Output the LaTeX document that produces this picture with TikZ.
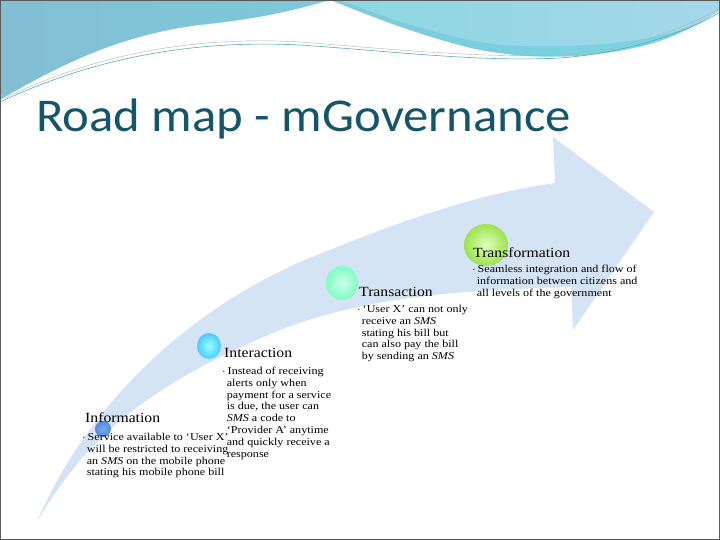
\documentclass[tikz,border=0pt]{standalone}
\usepackage{fontspec}
\setmainfont{Liberation Serif}
\newfontfamily\titlefont{Carlito}
\definecolor{hdA}{RGB}{130,190,212}
\definecolor{hdB}{RGB}{120,215,225}
\definecolor{hdC}{RGB}{140,215,225}
\definecolor{hdD}{RGB}{165,215,235}
\definecolor{hdline}{RGB}{90,170,190}
\definecolor{titlec}{RGB}{20,85,105}
\definecolor{arrowc}{RGB}{212,228,245}
\definecolor{infoA}{RGB}{120,170,235}
\definecolor{infoB}{RGB}{80,140,220}
\begin{document}
\begin{tikzpicture}[x=1pt,y=-1pt,
  head/.style={anchor=base west,inner sep=0pt,xscale=1.12,font=\fontsize{14}{16}\selectfont},
  bul/.style={anchor=north west,inner sep=0pt,align=left,xscale=1.15,font=\fontsize{10.5}{11.8}\selectfont},
  dot/.style={circle,inner sep=0pt}]
\useasboundingbox (0,0) rectangle (720,540);
\fill[white] (0,0) rectangle (720,540);
% header wave
\shade[left color=hdA,right color=hdB] (0,0) -- (720,0) -- (720,20) .. controls (640,55) and (560,65) .. (480,50) .. controls (380,30) and (280,20) .. (200,35) .. controls (120,50) and (50,80) .. (0,105) -- cycle;
\fill[white] (330,0) .. controls (380,20) and (430,40) .. (500,55) .. controls (600,70) and (680,40) .. (720,10) -- (720,25) .. controls (640,65) and (560,75) .. (480,65) .. controls (380,50) and (280,35) .. (200,40) .. controls (120,50) and (50,80) .. (0,105) -- (0,100) .. controls (60,65) and (120,35) .. (200,25) .. controls (250,20) and (290,12) .. (330,0) -- cycle;
\shade[left color=hdC,right color=hdD] (340,0) -- (720,0) -- (720,10) .. controls (680,40) and (600,50) .. (500,45) .. controls (430,35) and (380,15) .. (340,0) -- cycle;
\draw[hdline,line width=0.6pt] (0,102) .. controls (100,55) and (200,40) .. (300,45) .. controls (400,52) and (480,62) .. (560,58) .. controls (640,52) and (700,25) .. (720,12);
\draw[gray!60,line width=0.4pt] (5,98) .. controls (100,52) and (200,36) .. (300,42) .. controls (400,50) and (480,58) .. (560,55) .. controls (640,50) and (700,20) .. (720,8);
% title
\node[anchor=base west,inner sep=0pt,xscale=1.08,text=titlec,font=\titlefont\fontsize{47}{50}\selectfont] (title) at (36,132) {Road map - mGovernance};
% big arrow
\fill[arrowc] (37,522) .. controls (80,420) and (170,320) .. (300,262) .. controls (390,225) and (470,195) .. (555,183) -- (553,137) -- (654,212) -- (573,330) -- (571,287) .. controls (470,290) and (370,295) .. (280,330) .. controls (160,380) and (90,430) .. (37,522) -- cycle;
% dots
\shade[inner color=infoA,outer color=infoB] (103,429) circle (8);
\node[dot,minimum size=16pt] (d1) at (103,429) {};
\shade[inner color=cyan!40,outer color=cyan!70!blue!70] (209,346) ellipse (12 and 13);
\node[dot,minimum size=24pt] (d2) at (209,346) {};
\shade[inner color=green!30!cyan!20,outer color=green!50!cyan!50] (342,283) ellipse (16 and 17);
\node[dot,minimum size=32pt] (d3) at (342,283) {};
\shade[inner color=green!50!yellow!25,outer color=green!60!black!40!lime!70] (486,245) ellipse (22 and 21);
\node[dot,minimum size=42pt] (d4) at (486,245) {};
% texts
\node[head] (h1) at (85,422) {Information};
\node[bul] (b1) at (82,433) {$\cdot$\,Service available to `User X'\\\hspace*{4pt}will be restricted to receiving\\\hspace*{4pt}an \textit{SMS} on the mobile phone\\\hspace*{4pt}stating his mobile phone bill};
\node[head] (h2) at (224,357) {Interaction};
\node[bul] (b2) at (222,367) {$\cdot$\,Instead of receiving\\\hspace*{4pt}alerts only when\\\hspace*{4pt}payment for a service\\\hspace*{4pt}is due, the user can\\\hspace*{4pt}\textit{SMS} a code to\\\hspace*{4pt}`Provider A' anytime\\\hspace*{4pt}and quickly receive a\\\hspace*{4pt}response};
\node[head] (h3) at (359,296) {Transaction};
\node[bul] (b3) at (357,305) {$\cdot$\,`User X' can not only\\\hspace*{4pt}receive an \textit{SMS}\\\hspace*{4pt}stating his bill but\\\hspace*{4pt}can also pay the bill\\\hspace*{4pt}by sending an \textit{SMS}};
\node[head] (h4) at (473,257) {Transformation};
\node[bul] (b4) at (472,265) {$\cdot$\,Seamless integration and flow of\\\hspace*{4pt}information between citizens and\\\hspace*{4pt}all levels of the government};
\draw[gray!70!black,line width=1pt] (0.5,0.5) rectangle (719.5,539.5);
\end{tikzpicture}
\end{document}
